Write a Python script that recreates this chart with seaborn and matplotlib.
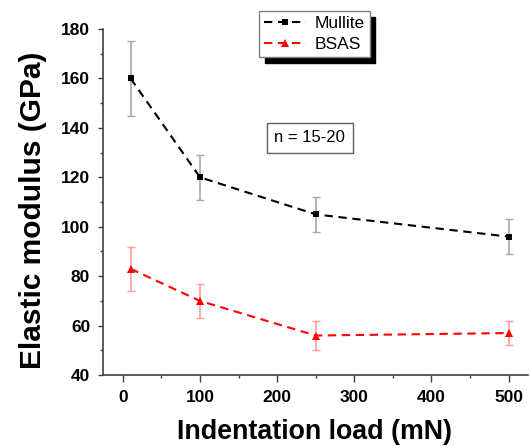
"""Elastic modulus vs indentation load for Mullite and BSAS."""
import pandas as pd
import matplotlib
matplotlib.use("Agg")
import matplotlib.pyplot as plt
import seaborn as sns

load = [10, 100, 250, 500]
mullite = [160, 120, 105, 96]
mullite_err = [15, 9, 7, 7]
bsas = [83, 70, 56, 57]
bsas_err = [9, 7, 6, 5]

df = pd.concat([
    pd.DataFrame({"load": load, "modulus": mullite, "err": mullite_err, "material": "Mullite"}),
    pd.DataFrame({"load": load, "modulus": bsas, "err": bsas_err, "material": "BSAS"}),
])

sns.set_theme(style="ticks")
plt.rcParams["font.family"] = ["Liberation Sans", "DejaVu Sans"]
plt.rcParams.update({"text.color": "black", "axes.labelcolor": "black",
                     "xtick.labelcolor": "black", "ytick.labelcolor": "black"})

fig = plt.figure(figsize=(5.3, 4.46), dpi=100)
ax = fig.add_axes([0.194, 0.159, 0.802, 0.776])

colors = {"Mullite": "black", "BSAS": "red"}
err_colors = {"Mullite": "#a8a8a8", "BSAS": "#ff9c9c"}
markers = {"Mullite": "s", "BSAS": "^"}
msizes = {"Mullite": 4.6, "BSAS": 6.0}

for name, sub in df.groupby("material", sort=False):
    ax.errorbar(sub["load"], sub["modulus"], yerr=sub["err"], fmt="none",
                ecolor=err_colors[name], elinewidth=1.2, capsize=3, capthick=1.0, zorder=1)
    sns.lineplot(data=sub, x="load", y="modulus", color=colors[name], label=name,
                 marker=markers[name], markersize=msizes[name], markeredgewidth=0,
                 dashes=(4, 2.7), linewidth=1.5, ax=ax, zorder=3)

ax.set_xlim(-26, 525)
ax.set_ylim(40, 180)
ax.set_xticks([0, 100, 200, 300, 400, 500])
ax.set_xticks([50, 150, 250, 350, 450], minor=True)
ax.set_yticks(range(40, 181, 20))
ax.set_yticks(range(50, 180, 20), minor=True)
ax.tick_params(axis="both", which="major", direction="out", width=1, color="#404040", labelsize=12.5)
ax.tick_params(axis="both", which="minor", direction="out", length=2.5, width=1, color="#404040")
ax.tick_params(axis="x", which="major", length=5, pad=5.5)
ax.tick_params(axis="y", which="major", length=3.6, pad=5.5)
for lbl in ax.get_xticklabels() + ax.get_yticklabels():
    lbl.set_fontweight("bold")
sns.despine(ax=ax)
for s in ["left", "bottom"]:
    ax.spines[s].set_color("#404040")
    ax.spines[s].set_linewidth(1.2)

ax.set_xlabel("Indentation load (mN)", fontsize=19.3, fontweight="bold", va="top")
ax.set_ylabel("Elastic modulus (GPa)", fontsize=21.5, fontweight="bold")
ax.xaxis.set_label_coords(0.499, -0.128)
ax.yaxis.set_label_coords(-0.132, 0.477)

handles, labels = ax.get_legend_handles_labels()
ax.get_legend().remove()
leg = fig.legend(handles, labels, loc="upper left", bbox_to_anchor=(259 / 530, 1 - 11 / 446),
                 fontsize=12.5, frameon=True, fancybox=False, handlelength=2.4,
                 borderpad=0.3, labelspacing=0.3, handletextpad=0.5, borderaxespad=0,
                 framealpha=1, shadow={"color": "black", "alpha": 1, "ox": 4, "oy": -4.5})
leg.get_frame().set_edgecolor("#808080")
leg.get_frame().set_linewidth(1)

ax.text(242, 136, "n = 15-20", fontsize=12, ha="center", va="center",
        bbox=dict(boxstyle="square,pad=0.45", facecolor="white", edgecolor="#606060", linewidth=1))

fig.savefig("out.png", dpi=100)
